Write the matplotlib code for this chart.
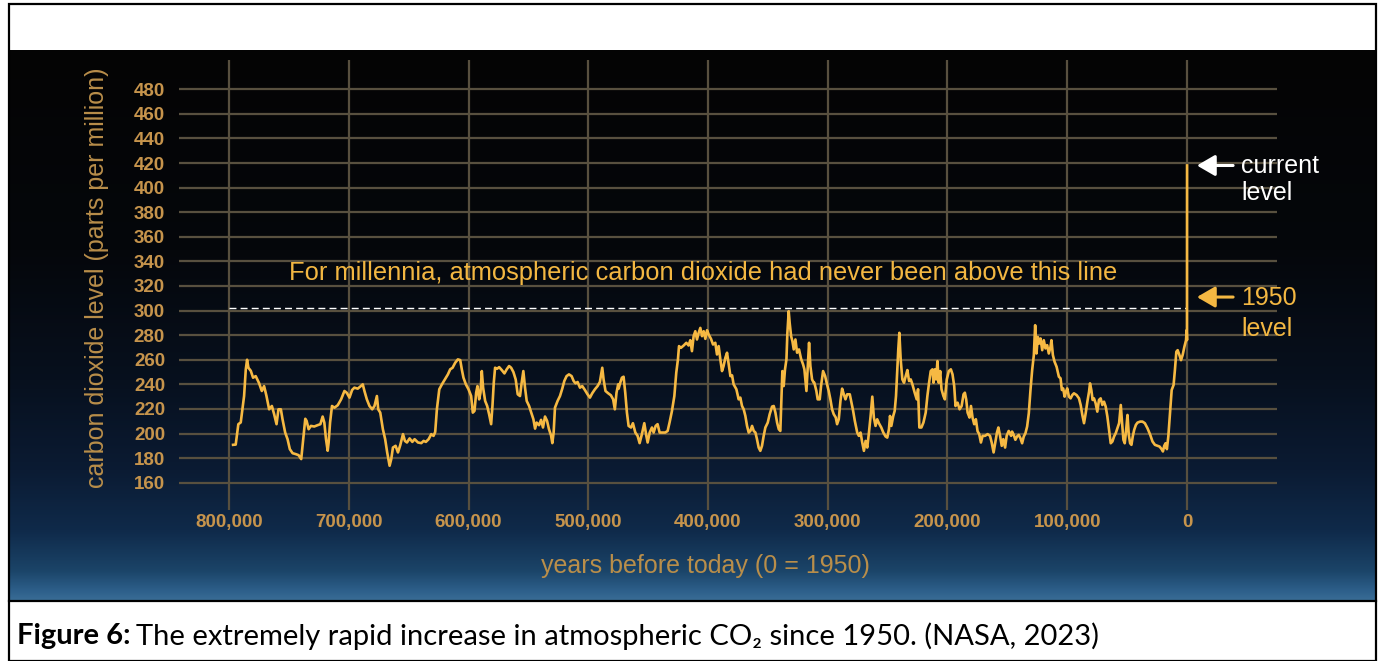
# Ice-core CO2 record, 800,000 years before 1950 to today (NASA style chart)
import numpy as np
import matplotlib
matplotlib.use('Agg')
import matplotlib.pyplot as plt
from matplotlib.patches import Rectangle
from matplotlib.lines import Line2D

plt.rcParams['font.family'] = ['Liberation Sans', 'DejaVu Sans']

# data: thousands of years before 1950 and CO2 in ppm
age_kyr = [
    796.6, 794.4, 792.2, 790.2, 788.8, 787.4, 786.0, 784.9, 783.8, 781.8, 779.9, 777.7, 774.9, 772.6,
    770.7, 768.7, 766.5, 764.2, 762.3, 760.3, 758.7, 756.7, 755.3, 753.1, 751.1, 749.2, 746.9, 744.1,
    741.9, 739.7, 738.0, 736.3, 735.2, 733.5, 731.6, 728.8, 726.0, 723.7, 721.8, 720.4, 719.0, 717.6,
    716.8, 715.6, 714.0, 712.0, 709.2, 706.4, 703.6, 701.7, 699.4, 697.2, 695.3, 692.5, 690.5, 688.3,
    686.9, 684.9, 682.7, 680.4, 678.5, 676.5, 675.4, 673.7, 671.5, 669.6, 667.9, 665.9, 664.5, 663.1,
    660.9, 658.9, 657.0, 654.7, 653.1, 651.4, 649.2, 646.9, 645.0, 642.2, 639.4,
    637.5, 635.6, 633.3, 631.1, 629.2, 627.8, 626.4, 624.4, 622.2, 619.4, 617.2, 615.3, 613.3, 611.1,
    608.9, 606.9, 605.6, 604.2, 602.2, 600.0, 597.8, 596.4, 595.0, 593.6, 592.5, 591.1, 590.0, 588.9,
    587.8, 586.1, 584.4, 582.8, 581.1, 580.0, 578.9, 577.8, 576.1, 574.4, 572.2, 570.0, 568.1, 566.1,
    564.4, 562.5, 560.6, 558.9, 557.0, 555.6, 554.2, 552.8, 551.4, 549.4, 547.8, 545.8, 544.4, 543.1,
    541.1, 539.4, 537.8, 536.1, 534.4, 532.8, 531.1, 530.0, 528.9, 527.8, 525.6, 523.6, 521.7, 520.0,
    518.1, 516.1, 513.9, 512.2, 510.6, 508.9, 506.9, 505.0, 502.8, 500.6, 498.6, 496.7, 494.4, 492.2,
    490.3, 488.3, 487.2, 485.6, 483.3, 481.1, 479.2, 477.8, 476.4, 475.0,
    474.6, 473.3, 471.9, 470.5, 469.1, 467.7, 466.3, 464.3, 462.7, 460.7, 458.8, 457.1, 455.2, 453.2,
    451.5, 450.4, 448.7, 446.8, 445.4, 443.7, 442.1, 440.4, 438.4, 435.7, 433.7, 432.0, 430.1, 428.1,
    426.5, 425.1, 424.2, 422.6, 420.3, 418.1, 416.2, 414.8, 413.4, 412.0, 410.6, 409.2, 407.8, 406.4,
    405.0, 403.6, 402.2, 400.8, 399.4, 397.5, 395.8, 393.9, 392.5, 391.1, 389.7, 388.3, 387.0, 385.5,
    384.1, 382.7, 381.3, 379.9, 378.6, 376.3, 374.4, 373.0, 371.6, 370.2, 368.8, 367.4, 366.0, 364.6,
    363.2, 361.8, 360.4, 359.1, 357.7, 356.3, 354.9, 353.5, 352.1, 350.1, 348.5, 346.5, 345.1, 343.7,
    342.3, 340.9, 339.6, 338.7, 337.9, 336.8, 335.7, 334.5, 333.7, 332.6, 331.8, 330.6, 329.5, 328.4,
    327.0, 325.6, 324.0, 322.3, 320.6, 319.5, 317.8, 316.7, 315.6, 314.5, 313.1, 311.7,
    311.2, 309.5, 308.4, 306.7, 305.6, 303.9, 302.2, 300.6, 299.2, 297.8, 296.4, 295.0, 293.3, 292.2,
    290.8, 289.4, 288.0, 286.6, 285.2, 283.8, 281.6, 280.2, 278.8, 277.4, 275.4, 274.0, 272.6, 271.2,
    269.8, 268.4, 267.0, 265.6, 264.2, 262.8, 261.5, 260.1, 258.7, 257.3, 255.3, 253.6, 251.7, 250.3,
    248.9, 248.0, 246.9, 245.3, 244.1, 243.0, 241.9, 241.1, 240.2, 239.1, 237.7, 236.3, 234.9, 233.5,
    232.1, 230.7, 229.3, 227.4, 225.7, 224.6, 223.5, 221.8, 220.1, 218.2, 216.8, 215.4, 214.0, 212.6,
    211.7, 210.6, 209.5, 208.4, 207.3, 206.1, 205.0, 203.4, 202.2, 200.6, 198.9, 197.2, 195.8, 194.4,
    193.3, 191.6, 189.9, 188.2, 186.6, 185.5, 184.4, 183.2, 181.6, 180.4, 179.1, 177.7, 176.3, 174.9,
    173.5, 172.1, 170.7, 168.7, 166.5, 164.5, 163.1, 161.5, 160.1, 158.7, 157.5, 156.1, 154.7, 153.4,
    151.9, 150.6, 148.9, 146.9,
    146.1, 144.7, 143.3, 141.9, 140.5, 139.1, 137.7, 136.3, 134.9, 133.5, 132.1, 130.7, 129.3, 127.9,
    126.8, 125.7, 124.6, 123.5, 122.3, 120.9, 119.6, 118.2, 116.8, 115.4, 114.0, 113.2, 112.0, 110.6,
    108.9, 107.0, 105.6, 104.5, 103.4, 102.2, 101.1, 100.0, 98.6, 97.2, 95.8, 94.4, 92.2, 90.2,
    88.8, 87.4, 86.0, 84.6, 83.2, 81.8, 81.0, 79.9, 78.8, 77.7, 76.3, 74.9, 73.5, 72.1,
    70.7, 69.3, 67.9, 66.5, 65.1, 63.7, 62.3, 60.9, 59.5, 58.1, 56.7, 55.3, 54.2, 53.1,
    52.0, 50.8, 49.7, 48.6, 47.5, 46.4, 45.3, 44.1, 42.7, 41.3, 39.1, 37.2, 35.2, 33.0,
    30.7, 28.8, 26.8, 24.6, 22.9, 21.2, 20.1, 19.0, 17.9, 16.8, 15.6, 14.2, 12.8, 11.2,
    10.1, 8.9, 7.8, 6.4, 5.0, 3.6, 2.2, 0.8, 0.3, 0.0, -0.07,
]
co2_ppm = [
    190.8, 191.0, 207.6, 209.0, 220.0, 230.5, 252.0, 260.0, 253.5, 251.0, 245.4, 246.7, 241.0, 234.6,
    238.6, 230.5, 219.7, 222.4, 215.7, 207.6, 219.7, 219.7, 211.6, 200.8, 195.4, 187.3, 184.0, 183.2,
    182.4, 179.2, 195.4, 212.0, 210.3, 203.5, 206.2, 205.7, 206.8, 207.6, 213.8, 208.9, 195.4, 186.0,
    192.7, 208.9, 222.4, 221.0, 223.0, 227.8, 234.6, 233.2, 229.2, 235.4, 237.3, 236.5, 238.1, 240.0,
    234.6, 227.8, 222.4, 219.7, 222.4, 230.5, 219.7, 217.0, 203.5, 195.4, 184.6, 173.8, 179.2, 188.6,
    190.0, 184.6, 190.5, 199.5, 194.0, 192.7, 196.0, 193.2, 195.4, 192.7, 192.2,
    194.0, 193.2, 195.4, 199.5, 198.1, 201.3, 219.7, 236.0, 240.0, 244.6, 248.1, 252.2, 253.5, 257.6,
    260.3, 259.7, 252.2, 245.4, 240.0, 236.0, 230.5, 217.0, 218.4, 233.2, 238.6, 227.8, 233.2, 250.8,
    237.3, 226.5, 222.4, 215.7, 207.6, 222.4, 241.3, 253.5, 252.7, 254.0, 251.6, 248.9, 252.2, 254.9,
    253.5, 250.0, 244.0, 231.9, 230.5, 241.3, 250.8, 237.3, 226.5, 222.4, 217.6, 211.6, 204.0, 208.9,
    206.8, 211.1, 204.9, 213.8, 210.3, 203.5, 198.6, 192.2, 200.8, 221.0, 226.5, 230.5, 236.5, 242.7,
    246.7, 248.1, 246.7, 242.7, 240.8, 241.9, 237.3, 238.6, 235.4, 231.9, 229.2, 232.7, 236.0, 238.6,
    241.9, 253.5, 244.0, 234.6, 232.7, 231.1, 227.8, 219.7, 233.2, 240.0,
    236.5, 241.3, 245.4, 246.2, 233.2, 217.0, 206.2, 204.9, 208.4, 200.8, 198.1, 192.2, 199.5, 208.4,
    198.1, 192.7, 200.8, 204.9, 200.8, 206.2, 207.6, 200.8, 200.8, 200.8, 202.1, 209.4, 218.4, 230.5,
    249.5, 260.3, 271.1, 269.7, 271.6, 273.8, 271.6, 275.9, 267.0, 279.2, 283.2, 276.5, 281.9, 285.9,
    279.2, 283.2, 277.0, 284.0, 280.5, 277.0, 272.4, 273.8, 264.3, 271.1, 260.3, 250.8, 254.9, 261.6,
    265.7, 256.2, 246.7, 247.3, 240.0, 236.0, 227.8, 229.2, 222.4, 219.7, 214.3, 206.2, 200.8, 202.1,
    206.2, 202.1, 200.8, 195.4, 188.6, 185.9, 190.0, 198.1, 204.9, 208.9, 215.7, 221.9, 222.4, 217.0,
    208.9, 203.5, 202.1, 227.8, 250.8, 238.6, 252.2, 260.3, 281.9, 299.5, 290.0, 279.2, 275.1, 268.4,
    276.5, 265.7, 268.4, 260.8, 256.2, 252.2, 234.6, 254.9, 273.8, 254.9, 244.0, 241.3,
    241.3, 234.6, 227.8, 227.8, 238.6, 250.8, 246.7, 240.0, 234.6, 227.8, 219.7, 215.7, 213.0, 207.6,
    211.6, 226.5, 236.5, 231.9, 227.8, 231.9, 231.9, 225.1, 218.4, 210.3, 200.8, 198.1, 200.8, 192.7,
    185.9, 194.0, 188.6, 200.8, 214.3, 230.0, 213.0, 206.2, 211.6, 208.4, 204.9, 200.8, 197.6, 196.7,
    203.5, 214.3, 206.2, 214.3, 218.4, 230.5, 252.2, 268.4, 281.9, 260.3, 244.0, 241.3, 246.7, 251.6,
    242.7, 244.0, 240.0, 233.2, 227.8, 236.0, 204.9, 204.9, 208.9, 217.0, 230.5, 241.3, 250.8, 252.2,
    241.3, 252.2, 244.0, 258.9, 241.3, 250.8, 236.0, 230.5, 227.8, 244.0, 250.8, 252.2, 248.1, 238.6,
    222.4, 225.1, 219.7, 222.4, 231.9, 233.2, 227.8, 217.0, 213.0, 222.4, 213.0, 207.6, 211.6, 201.9,
    199.5, 192.7, 198.1, 198.1, 199.5, 198.1, 192.7, 184.6, 192.7, 200.8, 204.9, 198.1, 190.0, 195.4,
    188.6, 198.1, 202.1, 198.1,
    201.6, 198.9, 194.9, 197.6, 198.9, 196.2, 192.1, 197.6, 200.3, 205.7, 216.5, 235.4, 251.6, 263.8,
    288.1, 265.1, 278.6, 273.2, 277.3, 267.8, 275.9, 269.2, 271.9, 265.1, 270.5, 275.9, 263.8, 258.4,
    254.3, 246.2, 244.9, 235.4, 236.7, 230.0, 234.0, 236.7, 230.0, 228.6, 231.3, 232.7, 231.3, 228.6,
    223.2, 215.1, 208.4, 216.5, 225.9, 234.0, 240.8, 235.4, 227.3, 228.6, 224.6, 217.8, 227.3, 228.6,
    223.2, 225.9, 221.9, 213.8, 203.0, 192.1, 193.5, 197.6, 200.3, 204.3, 208.4, 223.2, 208.4, 194.9,
    192.1, 203.0, 215.1, 198.9, 192.1, 190.8, 197.6, 203.0, 207.0, 208.9, 209.7, 209.7, 208.4, 204.3,
    198.9, 193.5, 190.8, 190.0, 189.4, 187.3, 185.4, 190.0, 192.1, 187.3, 197.6, 216.5, 235.4, 239.5,
    251.6, 266.5, 267.8, 264.0, 259.7, 264.0, 270.5, 275.9, 284.0, 276.0, 418.0,
]

y_ticks = list(range(160, 481, 20))
x_ticks = [800000, 700000, 600000, 500000, 400000, 300000, 200000, 100000, 0]
x_labels = ['800,000', '700,000', '600,000', '500,000', '400,000', '300,000', '200,000', '100,000', '0']
never_above = 302      # dashed line level
current_level = 418
level_1950 = 311

years = [a * 1000 for a in age_kyr]

# figure in pixel units
W, H = 1379, 661
fig = plt.figure(figsize=(W / 100, H / 100), dpi=100)
fig.patch.set_facecolor('white')

def fx(px):
    return px / W

def fy(py):
    return 1 - py / H

# dark background with blue glow at the bottom
bg = fig.add_axes([fx(10), fy(600), fx(1375) - fx(10), fy(50) - fy(600)])
bg.axis('off')
stops_y = [0, 200, 330, 420, 480, 520, 540, 550]
stops_c = ['#040404', '#05070b', '#07101e', '#0b1b33', '#0f2a4a', '#1b4468', '#2d5f8a', '#3a6d96']
rows = np.arange(550)
rgb = np.array([matplotlib.colors.to_rgb(c) for c in stops_c])
grad = np.stack([np.interp(rows, stops_y, rgb[:, k]) for k in range(3)], axis=1)
bg.imshow(grad[:, None, :], aspect='auto', extent=[0, 1, 0, 1], interpolation='bilinear')

# main axes
x0, x1 = 841754, -75157
y0, y1 = 137.8, 503.8
ax = fig.add_axes([fx(179), fy(510), fx(1277) - fx(179), fy(60) - fy(510)])
ax.patch.set_alpha(0)
ax.set_xlim(x0, x1)
ax.set_ylim(y0, y1)
for s in ax.spines.values():
    s.set_visible(False)

grid_c = '#58503f'
ax.hlines(y_ticks, x0, x1, colors=grid_c, lw=1.6, zorder=1)
ax.vlines(x_ticks, y0, y1, colors=grid_c, lw=1.6, zorder=1)

tick_c = '#c6944c'
ax.set_yticks(y_ticks)
ax.set_yticklabels([str(v) for v in y_ticks])
ax.set_xticks(x_ticks)
ax.set_xticklabels(x_labels)
ax.tick_params(length=0, colors=tick_c, labelsize=13.5)
ax.tick_params(axis='y', pad=10)
ax.tick_params(axis='x', pad=3)
for lab in ax.get_xticklabels() + ax.get_yticklabels():
    lab.set_fontweight('bold')

# CO2 curve and the "never above" line
ax.plot(years, co2_ppm, color='#f6b943', lw=1.9, zorder=3, solid_joinstyle='round')
ax.hlines(never_above, 800000, 0, colors='white', lw=1.0, linestyles=(0, (5, 3)), zorder=2)
ax.text(404000, 330.5, 'For millennia, atmospheric carbon dioxide had never been above this line',
        ha='center', va='center', fontsize=18.4, color='#f3b742')

# arrows and labels on the right
ax.annotate('', xy=(-8300, current_level), xytext=(-38500, current_level),
            arrowprops=dict(arrowstyle='-|>,head_length=0.55,head_width=0.32', color='white',
                            lw=2.2, mutation_scale=20, shrinkA=0, shrinkB=0))
ax.text(-45100, 417.5, 'current', ha='left', va='center', fontsize=18, color='white')
ax.text(-45100, 395.5, 'level', ha='left', va='center', fontsize=18, color='white')
ax.annotate('', xy=(-8300, level_1950), xytext=(-38500, level_1950),
            arrowprops=dict(arrowstyle='-|>,head_length=0.55,head_width=0.32', color='#f3b742',
                            lw=2.2, mutation_scale=20, shrinkA=0, shrinkB=0))
ax.text(-45100, 310, '1950', ha='left', va='center', fontsize=18, color='#f3b742')
ax.text(-45100, 284.7, 'level', ha='left', va='center', fontsize=18, color='#f3b742')

# axis titles
lab_c = '#b98e4a'
fig.text(fx(97), fy(278), 'carbon dioxide level (parts per million)', rotation=90,
         ha='center', va='center', fontsize=18, color=lab_c)
fig.text(fx(705), fy(566), 'years before today (0 = 1950)', ha='center', va='center',
         fontsize=18, color=lab_c)

# frame and caption box
fig.add_artist(Rectangle((fx(9), 0), fx(1376) - fx(9), fy(4), transform=fig.transFigure,
                         fill=False, ec='black', lw=1.6))
fig.add_artist(Line2D([fx(9), fx(1376)], [fy(601), fy(601)], color='black', lw=1.6))

cap_font = ['Lato', 'DejaVu Sans']
t1 = fig.text(fx(17), fy(636), 'Figure 6:', ha='left', va='center', fontsize=21,
              fontweight='bold', family=cap_font)
renderer = fig.canvas.get_renderer()
bb = t1.get_window_extent(renderer)
fig.text(bb.x1 / W + fx(6), fy(636),
         'The extremely rapid increase in atmospheric CO\u2082 since 1950. (NASA, 2023)',
         ha='left', va='center', fontsize=21, family=cap_font)

fig.savefig('out.png', dpi=100)
